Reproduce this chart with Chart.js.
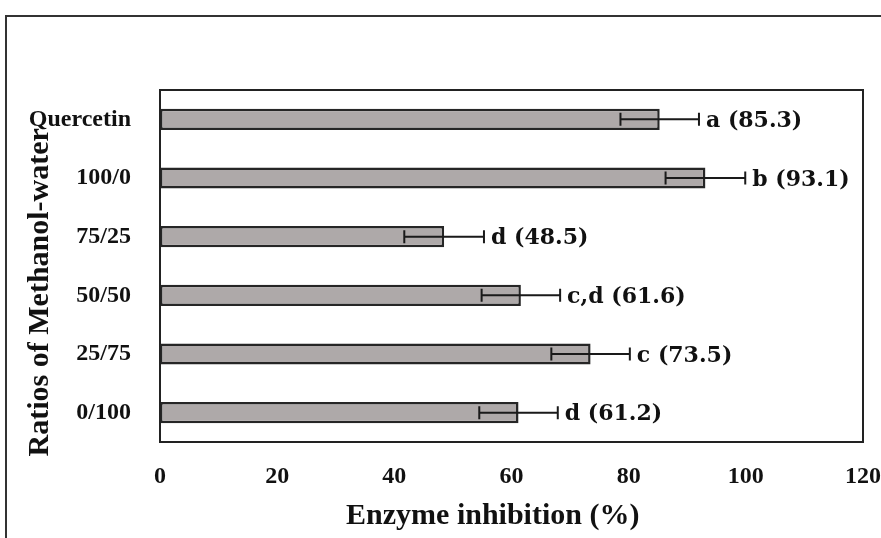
<!DOCTYPE html>
<html>
<head>
<meta charset="utf-8">
<script src="https://cdn.jsdelivr.net/npm/chart.js@4"></script>
<style>
  html, body { margin: 0; padding: 0; background: #fff; }
  #c { display: block; background: #fff; }
</style>
</head>
<body>
<canvas id="c" width="881" height="538"></canvas>
<script>
// ---- data ----
const categories = ['Quercetin', '100/0', '75/25', '50/50', '25/75', '0/100'];
const inhibition = [85.3, 93.1, 48.5, 61.6, 73.5, 61.2];
const errors = [6.7, 6.8, 6.8, 6.7, 6.7, 6.7];
const letters = ['a', 'b', 'd', 'c,d', 'c', 'd'];
const xTicks = [0, 20, 40, 60, 80, 100, 120];
const xTitle = 'Enzyme inhibition (%)';
const yTitle = 'Ratios of Methanol-water';

const SERIF = "'Liberation Serif', 'Times New Roman', serif";

const overlay = {
  id: 'overlay',
  beforeDraw(chart) {
    const ctx = chart.ctx;
    ctx.save();
    ctx.fillStyle = '#fff';
    ctx.fillRect(0, 0, chart.width, chart.height);
    // outer frame (left and top)
    ctx.strokeStyle = '#333';
    ctx.lineWidth = 2;
    ctx.beginPath();
    ctx.moveTo(6, chart.height);
    ctx.lineTo(6, 16);
    ctx.lineTo(chart.width, 16);
    ctx.stroke();
    ctx.restore();
  },
  afterDatasetsDraw(chart) {
    const ctx = chart.ctx;
    const xs = chart.scales.x;
    const meta = chart.getDatasetMeta(0);
    ctx.save();
    meta.data.forEach((bar, i) => {
      const y = bar.y;
      const lo = xs.getPixelForValue(inhibition[i] - errors[i]);
      const hi = xs.getPixelForValue(inhibition[i] + errors[i]);
      ctx.strokeStyle = '#1a1a1a';
      ctx.lineWidth = 2;
      ctx.beginPath();
      ctx.moveTo(lo, y); ctx.lineTo(hi, y);
      ctx.moveTo(lo, y - 6.5); ctx.lineTo(lo, y + 6.5);
      ctx.moveTo(hi, y - 6.5); ctx.lineTo(hi, y + 6.5);
      ctx.stroke();
      ctx.fillStyle = '#111';
      ctx.font = "bold 22px 'DejaVu Serif', serif";
      ctx.textAlign = 'left';
      ctx.textBaseline = 'middle';
      ctx.fillText(letters[i] + ' (' + inhibition[i].toFixed(1) + ')', hi + 7, y + 2);
    });
    ctx.restore();
  },
  afterDraw(chart) {
    const a = chart.chartArea;
    const ctx = chart.ctx;
    ctx.save();
    ctx.strokeStyle = '#222';
    ctx.lineWidth = 2;
    ctx.strokeRect(a.left, a.top, a.right - a.left, a.bottom - a.top);
    ctx.restore();
  }
};

new Chart(document.getElementById('c'), {
  type: 'bar',
  data: {
    labels: categories,
    datasets: [{
      data: inhibition,
      backgroundColor: '#aea9a9',
      borderColor: '#262626',
      borderWidth: 2.5,
      borderSkipped: false,
      barPercentage: 0.36,
      categoryPercentage: 1.0
    }]
  },
  options: {
    indexAxis: 'y',
    responsive: false,
    animation: false,
    devicePixelRatio: 1,
    layout: { padding: { left: 0, top: 90, right: 18, bottom: 0 } },
    plugins: { legend: { display: false }, tooltip: { enabled: false } },
    scales: {
      x: {
        min: 0, max: 120,
        afterBuildTicks(scale) { scale.ticks = xTicks.map(v => ({ value: v })); },
        afterFit(scale) { scale.height = 96; scale.paddingLeft = 0; scale.paddingRight = 0; },
        grid: { display: false, drawTicks: false },
        border: { display: false },
        ticks: { padding: 20, color: '#111', font: { family: SERIF, size: 24, weight: 'bold' } },
        title: {
          display: true,
          text: xTitle + '     ',
          color: '#111',
          padding: { top: 0, bottom: 4 },
          font: { family: SERIF, size: 30, weight: 'bold' }
        }
      },
      y: {
        afterFit(scale) { scale.width = 160; },
        grid: { display: false, drawTicks: false },
        border: { display: false },
        ticks: { padding: 29, color: '#111', font: { family: SERIF, size: 24, weight: 'bold' } },
        title: {
          display: true,
          text: yTitle + '       ',
          color: '#111',
          padding: { top: 22, bottom: 0 },
          font: { family: SERIF, size: 30, weight: 'bold' }
        }
      }
    }
  },
  plugins: [overlay]
});
</script>
</body>
</html>
